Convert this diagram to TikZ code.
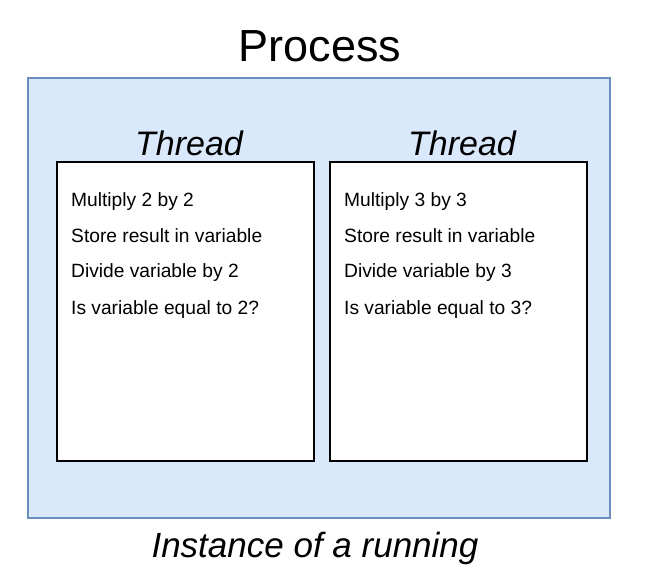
\documentclass[tikz,border=0pt]{standalone}
\usepackage{fontspec}
\setmainfont{Liberation Sans}
\begin{document}
\begin{tikzpicture}[x=1pt,y=-1pt,
  procbox/.style={draw=procline,fill=procfill,line width=2.5pt},
  threadbox/.style={draw=black,fill=white,line width=2.5pt},
  threadlabel/.style={font=\fontsize{34}{40}\selectfont\itshape,inner sep=0pt,anchor=base},
  steptext/.style={font=\fontsize{19.2}{22}\selectfont,anchor=base west,inner sep=0pt}]
\definecolor{procfill}{HTML}{DAE8FC}
\definecolor{procline}{HTML}{6C8EBF}
\useasboundingbox[fill=white] (0,0) rectangle (655,571);
\node[procbox,minimum width=582pt,minimum height=440pt,inner sep=0pt] (proc) at (319,298) {};
\node[inner sep=0pt,anchor=base,font=\fontsize{45}{50}\selectfont] (ptitle) at (320,61) {Process};
\node[threadbox,minimum width=257pt,minimum height=299pt,inner sep=0pt] (t1) at (185.5,311.5) {};
\node[threadbox,minimum width=257pt,minimum height=299pt,inner sep=0pt] (t2) at (458.5,311.5) {};
\node[threadlabel] (l1) at (189,155) {Thread};
\node[threadlabel] (l2) at (462,155) {Thread};
\node[steptext] (a1) at (71,206) {Multiply 2 by 2};
\node[steptext] (a2) at (71,242) {Store result in variable};
\node[steptext] (a3) at (71,277) {Divide variable by 2};
\node[steptext] (a4) at (71,314) {Is variable equal to 2?};
\node[steptext] (b1) at (344,206) {Multiply 3 by 3};
\node[steptext] (b2) at (344,242) {Store result in variable};
\node[steptext] (b3) at (344,277) {Divide variable by 3};
\node[steptext] (b4) at (344,314) {Is variable equal to 3?};
\node[inner sep=0pt,anchor=base,font=\fontsize{35}{40}\selectfont\itshape] (inst) at (315,557) {Instance of a running};
\end{tikzpicture}
\end{document}
